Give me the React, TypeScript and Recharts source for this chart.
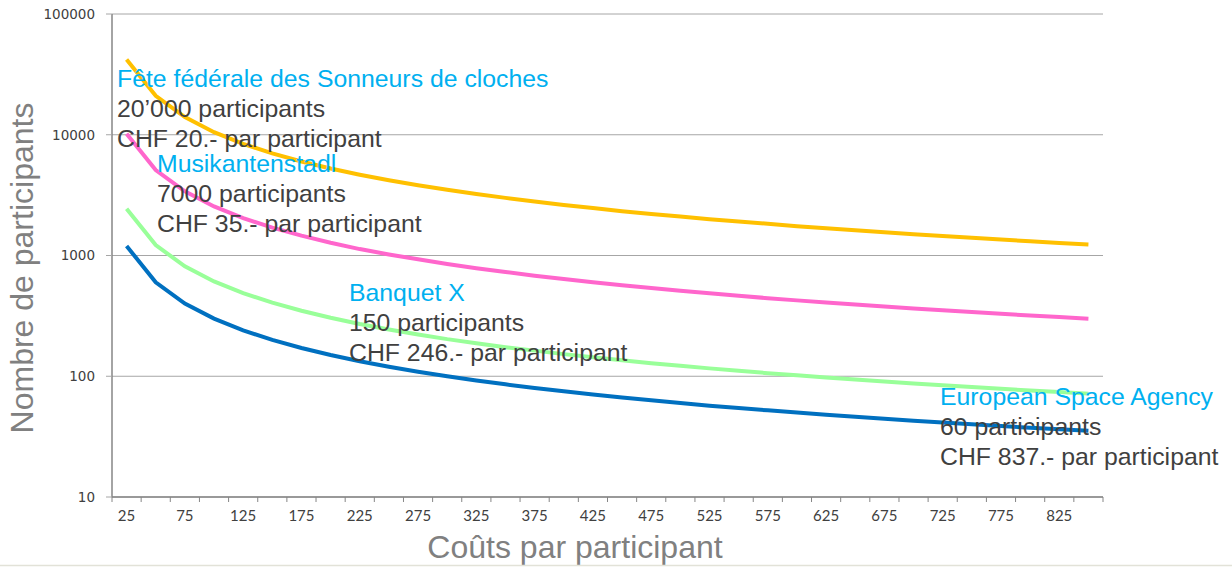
import { LineChart, Line, XAxis, YAxis, CartesianGrid } from 'recharts';

// cost per participant (CHF)
const costs = [
  25, 50, 75, 100, 125, 150, 175, 200, 225, 250, 275, 300, 325, 350, 375, 400, 425,
  450, 475, 500, 525, 550, 575, 600, 625, 650, 675, 700, 725, 750, 775, 800, 825, 850,
];

// participants
const fete = [
  42000, 21000, 14000, 10500, 8400, 7000, 6000, 5250, 4670, 4200, 3820, 3500, 3230, 3000,
  2800, 2625, 2470, 2330, 2210, 2100, 2000, 1910, 1830, 1750, 1680, 1615, 1555, 1500, 1450,
  1400, 1355, 1310, 1270, 1235,
];
const musik = [
  10200, 5100, 3400, 2550, 2040, 1700, 1460, 1275, 1130, 1020, 930, 850, 785, 730, 680, 640,
  600, 567, 537, 510, 486, 464, 443, 425, 408, 392, 378, 364, 352, 340, 329, 319, 309, 300,
];
const banquet = [
  2440, 1220, 813, 610, 488, 407, 349, 305, 271, 244, 222, 203, 188, 174, 163, 152.5, 143.5,
  135.6, 128.4, 122, 116.2, 110.9, 106.1, 101.7, 97.6, 93.8, 90.4, 87.1, 84.1, 81.3, 78.7,
  76.3, 73.9, 71.8,
];
const esa = [
  1200, 600, 400, 300, 240, 200, 171.4, 150, 133.3, 120, 109.1, 100, 92.3, 85.7, 80, 75, 70.6,
  66.7, 63.2, 60, 57.1, 54.5, 52.2, 50, 48, 46.2, 44.4, 42.9, 41.4, 40, 38.7, 37.5, 36.4, 35.3,
];

const yTicks = [10, 100, 1000, 10000, 100000];
const xLabelTicks = [25, 75, 125, 175, 225, 275, 325, 375, 425, 475, 525, 575, 625, 675, 725, 775, 825];
const xBoundaryTicks = [
  12.5, 37.5, 62.5, 87.5, 112.5, 137.5, 162.5, 187.5, 212.5, 237.5, 262.5, 287.5, 312.5,
  337.5, 362.5, 387.5, 412.5, 437.5, 462.5, 487.5, 512.5, 537.5, 562.5, 587.5, 612.5, 637.5,
  662.5, 687.5, 712.5, 737.5, 762.5, 787.5, 812.5, 837.5, 862.5,
];

const data = costs.map((c, i) => ({
  cost: c,
  fete: fete[i],
  musik: musik[i],
  banquet: banquet[i],
  esa: esa[i],
}));

const allXTicks = [...xBoundaryTicks, ...xLabelTicks].sort((a, b) => a - b);

// callouts on top of the chart
const notes = [
  { x: 117, y: 87, title: 'Fête fédérale des Sonneurs de cloches', l1: '20’000 participants', l2: 'CHF 20.- par participant' },
  { x: 157, y: 172, title: 'Musikantenstadl', l1: '7000 participants', l2: 'CHF 35.- par participant' },
  { x: 349, y: 301, title: 'Banquet X', l1: '150 participants', l2: 'CHF 246.- par participant' },
  { x: 940, y: 405, title: 'European Space Agency', l1: '60 participants', l2: 'CHF 837.- par participant' },
];

const AXIS = '#868686';
const GRID = '#a6a6a6';
const TXT = '#404040';

function XTick(props: any) {
  const { x, y, payload } = props;
  const v = payload.value;
  if (xLabelTicks.includes(v)) {
    return (
      <text x={x} y={y + 23.5} textAnchor="middle" fill={TXT} fontFamily="Lato" fontSize={15}>
        {v}
      </text>
    );
  }
  return <line x1={x} y1={y} x2={x} y2={y + 5} stroke={AXIS} strokeWidth={1} />;
}

export default function App() {
  return (
    <div style={{ position: 'absolute', left: 0, top: 0, width: 1232, height: 567, background: '#fff' }}>
      <LineChart width={1232} height={567} data={data} margin={{ top: 14, right: 129, bottom: 0, left: 0 }}>
        <CartesianGrid vertical={false} stroke={GRID} strokeWidth={1} />
        <XAxis
          type="number"
          dataKey="cost"
          domain={[12.5, 862.5]}
          ticks={allXTicks}
          interval={0}
          tickSize={0}
          tickMargin={0}
          tickLine={false}
          tick={<XTick />}
          height={70}
          axisLine={{ stroke: AXIS, strokeWidth: 1.5 }}
          allowDataOverflow
        />
        <YAxis
          type="number"
          scale="log"
          domain={[10, 100000]}
          ticks={yTicks}
          interval={0}
          width={112}
          tickSize={6}
          tickMargin={11}
          tickLine={{ stroke: GRID }}
          axisLine={{ stroke: AXIS, strokeWidth: 1.5 }}
          tick={{ fill: TXT, fontFamily: 'DejaVu Sans', fontSize: 13.5 }}
          allowDataOverflow
        />
        <Line type="linear" dataKey="fete" stroke="#ffc000" strokeWidth={4} dot={false} isAnimationActive={false} />
        <Line type="linear" dataKey="musik" stroke="#ff66cc" strokeWidth={4} dot={false} isAnimationActive={false} />
        <Line type="linear" dataKey="banquet" stroke="#99ff99" strokeWidth={4} dot={false} isAnimationActive={false} />
        <Line type="linear" dataKey="esa" stroke="#0070c0" strokeWidth={4} dot={false} isAnimationActive={false} />
      </LineChart>
      <svg
        width={1232}
        height={567}
        style={{ position: 'absolute', left: 0, top: 0, pointerEvents: 'none' }}
      >
        {notes.map((n) => (
          <g key={n.title} fontFamily="Liberation Sans, Arial, sans-serif" fontSize={24.8}>
            <text x={n.x} y={n.y} fill="#00b0f0">{n.title}</text>
            <text x={n.x} y={n.y + 30} fill={TXT}>{n.l1}</text>
            <text x={n.x} y={n.y + 60} fill={TXT}>{n.l2}</text>
          </g>
        ))}
        <text
          x={575}
          y={558}
          textAnchor="middle"
          fill="#808080"
          fontFamily="Liberation Sans, Arial, sans-serif"
          fontSize={32}
        >
          Coûts par participant
        </text>
        <text
          transform="translate(33 268) rotate(-90)"
          textAnchor="middle"
          fill="#808080"
          fontFamily="Liberation Sans, Arial, sans-serif"
          fontSize={32}
        >
          Nombre de participants
        </text>
        <line x1={0} y1={565.5} x2={1232} y2={565.5} stroke="#e2e2d8" strokeWidth={1.5} />
      </svg>
    </div>
  );
}
